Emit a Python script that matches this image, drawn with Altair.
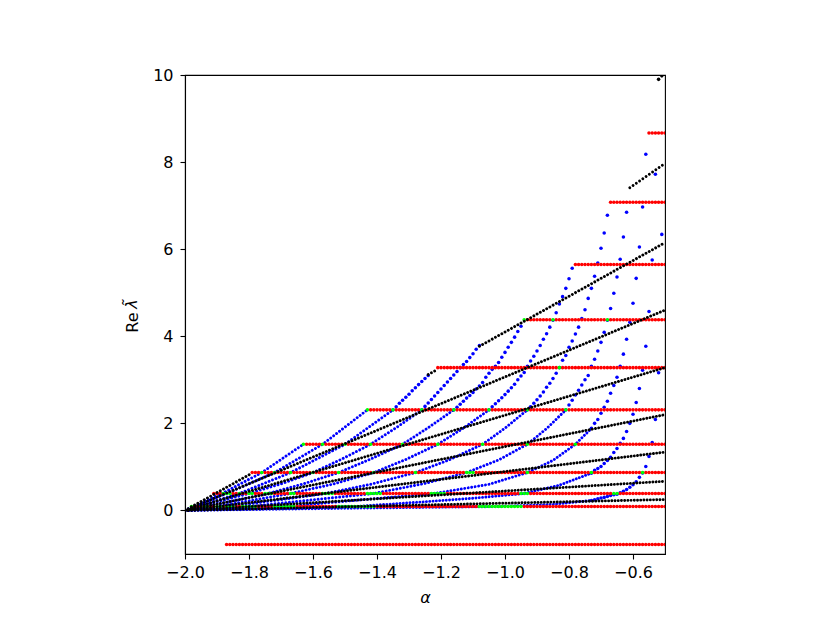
import altair as alt
import numpy as np
import pandas as pd

# Red plateaus: level value and first alpha on the 0.01 grid
red_levels = [-0.78, 0.09, 0.39, 0.87, 1.52, 2.31, 3.28, 4.38, 5.65, 7.08, 8.67]
red_starts = [-1.87, -1.98, -1.91, -1.79, -1.63, -1.43, -1.21, -0.94, -0.78, -0.67, -0.55]
# Green alphas on each plateau
green = {
    0.09: [-1.98, -1.94, -1.93, -1.90, -1.89, -1.87, -1.86, -1.85, -1.82, -1.81, -1.80, -1.79, -1.78,
           -1.72, -1.71, -1.70, -1.69, -1.68, -1.67, -1.66, -1.52, -1.51, -1.50, -1.49, -1.48, -1.47,
           -1.46, -1.45, -1.44, -1.43, -1.42, -1.41, -1.08, -1.07, -1.06, -1.05, -1.04, -1.03, -1.02,
           -1.01, -1.00, -0.99, -0.98, -0.97, -0.96, -0.95],
    0.39: [-1.88, -1.87, -1.86, -1.83, -1.80, -1.79, -1.75, -1.74, -1.73, -1.67, -1.66, -1.57, -1.56,
           -1.55, -1.54, -1.43, -1.42, -1.41, -1.40, -1.39, -1.23, -1.22, -1.21, -1.20, -1.19, -0.95,
           -0.94, -0.93, -0.66, -0.65],
    0.87: [-1.76, -1.72, -1.67, -1.60, -1.52, -1.41, -1.28, -1.12, -1.11, -1.10, -0.93, -0.73, -0.57],
    1.52: [-1.63, -1.57, -1.50, -1.42, -1.32, -1.21, -1.07, -0.93, -0.78],
    2.31: [-1.43, -1.35, -1.26, -1.16, -1.05, -0.93, -0.81],
    3.28: [-0.83],
    4.38: [-0.94, -0.85, -0.68],
}

# Black rays: (alphas, values, dot spacing)
black_series = [
    ([-2.0, -0.5], [0, 0.25], 3.2),
    ([-2.0, -0.5], [0, 0.67], 3.2),
    ([-2.0, -0.5], [0, 1.34], 3.2),
    ([-2.0, -0.5], [0, 2.20], 3.26),
    ([-2.0, -0.5], [0, 3.28], 3.34),
    ([-2.0, -0.5], [0, 4.60], 3.47),
    ([-2.0, -1.79], [0, 0.86], 3.66),
    ([-1.24, -1.21], [3.12, 3.24], 3.66),
    ([-1.08, -0.5], [3.77, 6.15], 3.66),
    ([-0.61, -0.5], [7.41, 7.97], 3.95),
]
black_dot_alpha = [-0.52, -0.51]
black_dot_value = [9.90, 9.98]

# Blue curves, shallow part: knots read at plateau crossings
blue_lines = [
    ([-2.0, -1.884, -1.76, -1.63], [0, 0.39, 0.87, 1.52], 3.7),
    ([-2.0, -1.87, -1.72, -1.57, -1.43], [0, 0.39, 0.87, 1.52, 2.31], 3.7),
    ([-2.0, -1.83, -1.67, -1.50, -1.35], [0, 0.39, 0.87, 1.52, 2.31], 3.7),
    ([-2.0, -1.80, -1.70, -1.60, -1.51, -1.42, -1.34, -1.26], [0, 0.39, 0.61, 0.87, 1.18, 1.52, 1.90, 2.31], 3.7),
    ([-2.0, -1.93, -1.74, -1.63, -1.52, -1.42, -1.32, -1.24, -1.16], [0, 0.09, 0.39, 0.61, 0.87, 1.18, 1.52, 1.90, 2.31], 3.6),
    ([-2.0, -1.90, -1.67, -1.54, -1.41, -1.31, -1.21, -1.13, -1.05], [0, 0.09, 0.39, 0.60, 0.87, 1.17, 1.52, 1.89, 2.31], 3.6),
    ([-2.0, -1.86, -1.56, -1.42, -1.28, -1.175, -1.07, -1.00, -0.93], [0, 0.09, 0.39, 0.60, 0.87, 1.16, 1.52, 1.89, 2.31], 3.6),
    ([-2.0, -1.80, -1.41, -1.25, -1.12, -1.02, -0.93, -0.87, -0.81], [0, 0.09, 0.39, 0.62, 0.87, 1.16, 1.52, 1.88, 2.31], 3.6),
    ([-2.0, -1.69, -1.22, -1.05, -0.93, -0.85, -0.78, -0.73], [0, 0.09, 0.39, 0.60, 0.87, 1.15, 1.52, 1.885], 3.5),
    ([-2.0, -1.47, -1.27, -1.10, -0.94, -0.83, -0.73], [0, 0.09, 0.19, 0.28, 0.39, 0.58, 0.857], 3.3),
    ([-2.0, -1.50, -1.02, -0.85, -0.73], [0, 0.05, 0.09, 0.14, 0.23], 3.25),
]

# Blue curves, steep part: individual dots
c3_a = [-1.35, -1.34, -1.33, -1.32, -1.31, -1.30, -1.29, -1.28, -1.27, -1.26, -1.25, -1.24]
c3_v = [2.31, 2.38, 2.46, 2.53, 2.60, 2.67, 2.75, 2.82, 2.89, 2.96, 3.03, 3.10]
c4_a = [-1.26, -1.25, -1.24, -1.23, -1.22, -1.21, -1.20, -1.19, -1.18, -1.17, -1.16, -1.15, -1.14,
        -1.13, -1.12, -1.11, -1.10, -1.09, -1.08]
c4_v = [2.31, 2.39, 2.47, 2.55, 2.63, 2.71, 2.79, 2.87, 2.95, 3.03, 3.11, 3.19, 3.28,
        3.35, 3.42, 3.51, 3.60, 3.70, 3.79]
c5_a = [-1.16, -1.15, -1.14, -1.13, -1.12, -1.11, -1.10, -1.09, -1.08, -1.07, -1.06, -1.05, -1.04,
        -1.03, -1.02, -1.01, -1.00, -0.99, -0.98, -0.97, -0.96, -0.95]
c5_v = [2.31, 2.37, 2.44, 2.51, 2.58, 2.64, 2.71, 2.79, 2.86, 2.94, 3.06, 3.15, 3.24,
        3.31, 3.40, 3.52, 3.63, 3.75, 3.86, 3.98, 4.11, 4.23]
c6_a = [-1.05, -1.04, -1.03, -1.02, -1.01, -1.00, -0.99, -0.98, -0.97, -0.96, -0.95, -0.94, -0.93,
        -0.92, -0.91, -0.90, -0.89, -0.88, -0.87, -0.86, -0.85, -0.84, -0.83, -0.82, -0.81, -0.80, -0.79]
c6_v = [2.31, 2.38, 2.45, 2.52, 2.59, 2.66, 2.74, 2.82, 2.90, 3.00, 3.09, 3.17, 3.31,
        3.43, 3.54, 3.66, 3.79, 3.93, 4.06, 4.21, 4.37, 4.54, 4.74, 4.91, 5.10, 5.32, 5.56]
c7_a = [-0.93, -0.92, -0.91, -0.90, -0.89, -0.88, -0.87, -0.86, -0.85, -0.84, -0.83, -0.82, -0.81,
        -0.80, -0.79, -0.78, -0.77, -0.76, -0.75, -0.74, -0.73, -0.72, -0.71, -0.70, -0.69, -0.68]
c7_v = [2.31, 2.38, 2.46, 2.54, 2.63, 2.72, 2.83, 2.92, 3.03, 3.15, 3.28, 3.45, 3.56,
        3.75, 3.89, 4.05, 4.21, 4.41, 4.61, 4.87, 5.10, 5.38, 5.68, 6.02, 6.37, 6.78]
c8_a = [-0.81, -0.80, -0.79, -0.78, -0.77, -0.76, -0.75, -0.74, -0.73, -0.72, -0.71, -0.70, -0.69,
        -0.68, -0.67, -0.66, -0.65, -0.64, -0.63, -0.62]
c8_v = [2.31, 2.42, 2.53, 2.65, 2.76, 2.88, 3.00, 3.10, 3.31, 3.47, 3.66, 3.86, 4.09,
        4.37, 4.64, 4.99, 5.36, 5.77, 6.28, 6.85]
c9_a = [-0.73, -0.72, -0.71, -0.70, -0.69, -0.68, -0.67, -0.66, -0.65, -0.64, -0.63, -0.62, -0.61,
        -0.60, -0.59, -0.58, -0.57, -0.56]
c9_v = [1.885, 2.00, 2.09, 2.23, 2.37, 2.51, 2.69, 2.87, 3.06, 3.31, 3.59, 3.93, 4.32,
        4.76, 5.33, 6.05, 6.97, 8.18]
c10_a = [-0.73, -0.72, -0.71, -0.70, -0.69, -0.68, -0.67, -0.66, -0.65, -0.64, -0.63, -0.62, -0.61,
         -0.60, -0.59, -0.58, -0.57, -0.56, -0.55, -0.54, -0.53]
c10_v = [0.857, 0.92, 0.965, 1.01, 1.08, 1.15, 1.22, 1.33, 1.425, 1.54, 1.655, 1.815, 2.00,
         2.21, 2.48, 2.80, 3.22, 3.77, 4.57, 5.75, 7.72]
c11_a = [-0.73, -0.72, -0.71, -0.70, -0.69, -0.68, -0.67, -0.66, -0.65, -0.64, -0.63, -0.62, -0.61,
         -0.60, -0.59, -0.58, -0.57, -0.56, -0.55, -0.54, -0.53, -0.52, -0.51]
c11_v = [0.23, 0.245, 0.27, 0.285, 0.30, 0.32, 0.345, 0.36, 0.375, 0.405, 0.44, 0.48, 0.535,
         0.59, 0.66, 0.76, 0.86, 1.01, 1.24, 1.56, 2.09, 3.16, 6.34]
blue_dot_sets = [(c3_a, c3_v), (c4_a, c4_v), (c5_a, c5_v), (c6_a, c6_v), (c7_a, c7_v),
                 (c8_a, c8_v), (c9_a, c9_v), (c10_a, c10_v), (c11_a, c11_v)]

x_ticks = [-2.0, -1.8, -1.6, -1.4, -1.2, -1.0, -0.8, -0.6]
y_ticks = [0, 2, 4, 6, 8, 10]

X = alt.X("a:Q", scale=alt.Scale(domain=[-2.0, -0.5], nice=False, zero=False),
          axis=alt.Axis(values=x_ticks, format=".1f", title="α", titleFontStyle="italic", grid=False,
                        labelPadding=5, titlePadding=9))
Y = alt.Y("v:Q", scale=alt.Scale(domain=[-1, 10], nice=False, zero=False),
          axis=alt.Axis(values=y_ticks, title="Re", titleX=-48, titleY=247, titleAlign="center",
                        titleBaseline="alphabetic", grid=False, labelPadding=7))

DOT = 4.0
LINE_DOT = 2.9


def dots(a, v, color):
    df = pd.DataFrame({"a": a, "v": v})
    return alt.Chart(df).mark_circle(size=3.1416 * DOT * DOT / 4, color=color, opacity=1,
                                     clip=True).encode(x=X, y=Y)


def dotted(a, v, gap, color):
    df = pd.DataFrame({"a": a, "v": v})
    return alt.Chart(df).mark_line(color=color, strokeWidth=LINE_DOT, strokeCap="round",
                                   strokeDash=[0.01, gap], clip=True).encode(x=X, y=Y)


layers = []
for a, v, gap in blue_lines:
    layers.append(dotted(a, v, gap, "#0000ff"))
blue_a = [x for s in blue_dot_sets for x in s[0]]
blue_v = [x for s in blue_dot_sets for x in s[1]]
layers.append(dots(blue_a, blue_v, "#0000ff"))

red_a, red_v, green_a, green_v = [], [], [], []
for lev, st in zip(red_levels, red_starts):
    g = [round(x, 2) for x in green.get(lev, [])]
    for k in range(int(round((-0.5 - st) * 100)) + 1):
        al = round(st + k * 0.01, 2)
        if al in g:
            green_a.append(al)
            green_v.append(lev)
        else:
            red_a.append(al)
            red_v.append(lev)
layers.append(dots(red_a, red_v, "#ff0000"))
layers.append(dots(green_a, green_v, "#00ff00"))

for a, v, gap in black_series:
    layers.append(dotted(a, v, gap, "#000000"))
layers.append(dots(black_dot_alpha, black_dot_value, "#000000"))

# italic lambda-tilde that follows "Re" in the y title
layers.append(alt.Chart(pd.DataFrame({"t": ["λ̃"]})).mark_text(
    font="DejaVu Sans", fontSize=16, fontStyle="italic", color="#000000", angle=270,
    align="center", baseline="alphabetic", clip=False,
).encode(text="t:N", x=alt.value(-48), y=alt.value(229)))

chart = alt.layer(*layers).properties(
    width=480, height=479,
    autosize=alt.AutoSizeParams(type="none"),
    padding={"left": 177, "top": 67, "right": 150, "bottom": 60},
).configure_view(stroke="#000000", strokeWidth=1.1).configure_axis(
    domainColor="#000000", domainWidth=1.1, tickColor="#000000", tickWidth=1.1, tickSize=5,
    labelFont="DejaVu Sans", labelFontSize=16, labelColor="#000000",
    titleFont="DejaVu Sans", titleFontSize=16, titleColor="#000000", titleFontWeight="normal",
    labelFlush=False,
)

chart.save("out.html", embed_options={"renderer": "svg", "actions": False})
